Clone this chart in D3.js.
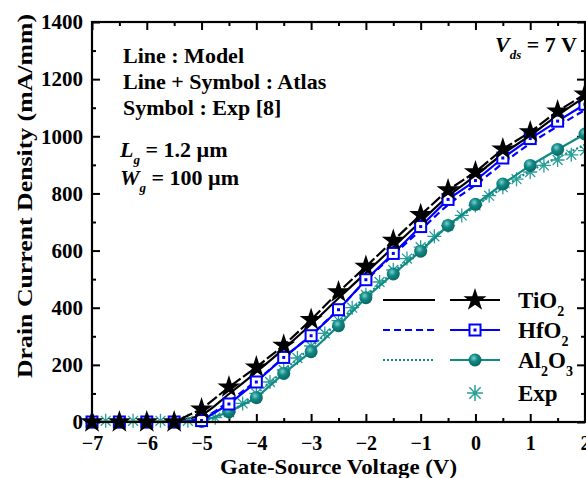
<!DOCTYPE html>
<html>
<head>
<meta charset="utf-8">
<script src="https://cdn.jsdelivr.net/npm/d3@7"></script>
<style>
  body { margin: 0; background: #fff; }
  text { font-family: "Liberation Serif", "Times New Roman", serif; font-weight: bold; }
</style>
</head>
<body>
<div id="viz"></div>
<script>
// ---- data ----
const atlasV = [-7, -6.5, -6, -5.5, -5, -4.5, -4, -3.5, -3, -2.5, -2, -1.5, -1, -0.5, 0, 0.5, 1, 1.5, 2];
const tio2Atlas = [0, 0, 0, 0, 45, 122, 192, 268, 358, 455, 544, 635, 725, 812, 875, 955, 1015, 1088, 1147];
const hfo2Atlas = [0, 0, 0, 0, 5, 63, 140, 226, 302, 393, 498, 590, 684, 779, 845, 924, 992, 1053, 1112];
const al2o3Atlas = [0, 0, 0, 0, 2, 35, 85, 170, 246, 337, 435, 518, 598, 688, 762, 833, 898, 954, 1008];

const modelV = [-7, -6.5, -6, -5.5, -5, -4.5, -4, -3.5, -3, -2.5, -2, -1.5, -1, -0.5, 0, 0.5, 1, 1.5, 2];
const tio2Model = [0, 0, 0, 4, 25, 98, 175, 256, 342, 433, 522, 612, 702, 790, 862, 938, 1003, 1073, 1138];
const hfo2Model = [0, 0, 0, 0, 14, 72, 145, 225, 305, 395, 495, 585, 672, 760, 830, 905, 975, 1035, 1092];
const al2o3Model = [0, 0, 0, 0, 5, 35, 100, 180, 262, 350, 440, 525, 605, 685, 755, 820, 878, 925, 970];

const expV = [-7, -6.75, -6.5, -6.25, -6, -5.75, -5.5, -5.25, -5, -4.75, -4.5, -4.25, -4, -3.75, -3.5, -3.25,
  -3, -2.75, -2.5, -2.25, -2, -1.75, -1.5, -1.25, -1, -0.75, -0.5, -0.25, 0, 0.25, 0.5, 0.75, 1, 1.25, 1.5, 1.75, 2];
const expI = [4, 4, 4, 4, 4, 4, 4, 4, 5, 15, 35, 65, 100, 140, 182, 224, 266, 310, 355, 400, 445, 490, 532,
  572, 612, 650, 687, 723, 758, 792, 822, 850, 875, 898, 917, 935, 950];

const xTicks = [-7, -6, -5, -4, -3, -2, -1, 0, 1, 2];
const yTicks = [0, 200, 400, 600, 800, 1000, 1200, 1400];

const black = "#000000", blue = "#0000ff", teal = "#108a86", expTeal = "#2a9e98";

const W = 586, H = 478;
const mLeft = 92, mRight = 585, mTop = 22, mBottom = 422;

const svg = d3.select("#viz").append("svg")
  .attr("width", W).attr("height", H);

const defs = svg.append("defs");
const grad = defs.append("radialGradient").attr("id", "ball")
  .attr("cx", "40%").attr("cy", "35%").attr("r", "65%");
grad.append("stop").attr("offset", "0%").attr("stop-color", "#7fd0cb");
grad.append("stop").attr("offset", "45%").attr("stop-color", teal);
grad.append("stop").attr("offset", "100%").attr("stop-color", "#0b6663");

const x = d3.scaleLinear().domain([-7, 2]).range([mLeft, mRight]);
const y = d3.scaleLinear().domain([0, 1400]).range([mBottom, mTop]);

// ---- axes (ticks pointing inward) ----
function styleAxis(size) {
  return g => {
    g.select(".domain").remove();
    g.selectAll(".tick line").attr("stroke", black).attr("stroke-width", 2);
    g.selectAll("text").attr("fill", black).style("font-size", size);
  };
}

svg.append("g").attr("transform", `translate(0,${mBottom})`)
  .call(d3.axisBottom(x).tickValues(xTicks).tickSize(-8).tickPadding(14).tickFormat(d3.format("d")))
  .call(styleAxis("20px"));
svg.append("g").attr("transform", `translate(0,${mBottom})`)
  .call(d3.axisBottom(x).tickValues(d3.range(-6.5, 2, 1)).tickSize(-4).tickFormat(""))
  .call(styleAxis("20px"));
svg.append("g").attr("transform", `translate(0,${mTop})`)
  .call(d3.axisTop(x).tickValues(xTicks).tickSize(-8).tickFormat(""))
  .call(styleAxis("20px"));
svg.append("g").attr("transform", `translate(0,${mTop})`)
  .call(d3.axisTop(x).tickValues(d3.range(-6.5, 2, 1)).tickSize(-4).tickFormat(""))
  .call(styleAxis("20px"));

svg.append("g").attr("transform", `translate(${mLeft},0)`)
  .call(d3.axisLeft(y).tickValues(yTicks).tickSize(-8).tickPadding(9).tickFormat(d3.format("d")))
  .call(styleAxis("21px"));
svg.append("g").attr("transform", `translate(${mLeft},0)`)
  .call(d3.axisLeft(y).tickValues(d3.range(100, 1400, 200)).tickSize(-4).tickFormat(""))
  .call(styleAxis("21px"));
svg.append("g").attr("transform", `translate(${mRight},0)`)
  .call(d3.axisRight(y).tickValues(yTicks).tickSize(-8).tickFormat(""))
  .call(styleAxis("21px"));
svg.append("g").attr("transform", `translate(${mRight},0)`)
  .call(d3.axisRight(y).tickValues(d3.range(100, 1400, 200)).tickSize(-4).tickFormat(""))
  .call(styleAxis("21px"));

// axis titles
svg.append("text")
  .attr("x", 220).attr("y", 474)
  .attr("textLength", 237).attr("lengthAdjust", "spacingAndGlyphs")
  .style("font-size", "21px")
  .text("Gate-Source Voltage  (V)");

svg.append("text")
  .attr("transform", "translate(32,378) rotate(-90)")
  .attr("textLength", 364).attr("lengthAdjust", "spacingAndGlyphs")
  .style("font-size", "22px")
  .text("Drain Current Density (mA/mm)");

// ---- curves ----
const plot = svg.append("g");

function pts(xs, ys) { return xs.map((v, i) => [v, ys[i]]); }

const line = d3.line().x(d => x(d[0])).y(d => y(d[1])).curve(d3.curveMonotoneX);
const straight = d3.line().x(d => x(d[0])).y(d => y(d[1]));

// model lines
plot.append("path").attr("d", line(pts(modelV, tio2Model)))
  .attr("fill", "none").attr("stroke", black).attr("stroke-width", 2.2);
plot.append("path").attr("d", line(pts(modelV, hfo2Model)))
  .attr("fill", "none").attr("stroke", blue).attr("stroke-width", 2.2)
  .attr("stroke-dasharray", "7,4");
plot.append("path").attr("d", line(pts(modelV, al2o3Model)))
  .attr("fill", "none").attr("stroke", teal).attr("stroke-width", 2.2)
  .attr("stroke-dasharray", "2,2");

// experimental asterisks
function asterisk(r) {
  const p = d3.path();
  for (let k = 0; k < 4; k++) {
    const a = k * Math.PI / 4;
    p.moveTo(-r * Math.cos(a), -r * Math.sin(a));
    p.lineTo(r * Math.cos(a), r * Math.sin(a));
  }
  return p.toString();
}
plot.append("g").selectAll("path")
  .data(pts(expV, expI))
  .join("path")
  .attr("transform", d => `translate(${x(d[0])},${y(d[1])})`)
  .attr("d", asterisk(7))
  .attr("stroke", expTeal).attr("stroke-width", 1.3).attr("fill", "none");

// atlas lines + symbols
plot.append("path").attr("d", straight(pts(atlasV, al2o3Atlas)))
  .attr("fill", "none").attr("stroke", teal).attr("stroke-width", 2.2);
plot.append("g").selectAll("circle")
  .data(pts(atlasV, al2o3Atlas))
  .join("circle")
  .attr("cx", d => x(d[0])).attr("cy", d => y(d[1])).attr("r", 6.5)
  .attr("fill", "url(#ball)");

plot.append("path").attr("d", straight(pts(atlasV, hfo2Atlas)))
  .attr("fill", "none").attr("stroke", blue).attr("stroke-width", 2.2);
const sq = plot.append("g").selectAll("g")
  .data(pts(atlasV, hfo2Atlas))
  .join("g")
  .attr("transform", d => `translate(${x(d[0])},${y(d[1])})`);
sq.append("rect").attr("x", -5.5).attr("y", -5.5).attr("width", 11).attr("height", 11)
  .attr("fill", "#fff").attr("stroke", blue).attr("stroke-width", 2);
sq.append("rect").attr("x", -1.5).attr("y", -1.5).attr("width", 3).attr("height", 3)
  .attr("fill", blue);

plot.append("path").attr("d", straight(pts(atlasV, tio2Atlas)))
  .attr("fill", "none").attr("stroke", black).attr("stroke-width", 2.2)
  .attr("stroke-dasharray", "12,3");
plot.append("g").selectAll("path")
  .data(pts(atlasV, tio2Atlas))
  .join("path")
  .attr("transform", d => `translate(${x(d[0])},${y(d[1])})`)
  .attr("d", d3.symbol(d3.symbolStar, 165)())
  .attr("fill", black);

// frame
svg.append("rect")
  .attr("x", mLeft).attr("y", mTop)
  .attr("width", mRight - mLeft).attr("height", mBottom - mTop)
  .attr("fill", "none").attr("stroke", black).attr("stroke-width", 2.2);

// ---- annotations ----
const note = svg.append("g").style("font-size", "22px");
note.append("text").attr("x", 123).attr("y", 63).text("Line : Model");
note.append("text").attr("x", 123).attr("y", 89).text("Line + Symbol : Atlas");
note.append("text").attr("x", 123).attr("y", 115).text("Symbol : Exp [8]");

function subLabel(xp, yp, main, sub, rest) {
  const t = note.append("text").attr("x", xp).attr("y", yp);
  t.append("tspan").style("font-style", "italic").text(main);
  t.append("tspan").style("font-style", "italic").style("font-size", "13px")
    .attr("dy", 7).text(sub);
  t.append("tspan").attr("dy", -7).text(rest);
  return t;
}
subLabel(120, 157, "L", "g", " = 1.2 \u00b5m");
subLabel(120, 185, "W", "g", " = 100 \u00b5m");
subLabel(495, 52, "V", "ds", " = 7 V");

// ---- legend ----
const legendRows = [
  { y: 300, color: black, dash: null, name: ["TiO", "2", ""] },
  { y: 330, color: blue, dash: "7,4", name: ["HfO", "2", ""] },
  { y: 360, color: teal, dash: "2,2", name: ["Al", "2", "O", "3"] }
];
const lg = svg.append("g");
legendRows.forEach((r, i) => {
  lg.append("line").attr("x1", 383).attr("x2", 435).attr("y1", r.y).attr("y2", r.y)
    .attr("stroke", r.color).attr("stroke-width", 2.2).attr("stroke-dasharray", r.dash);
  lg.append("line").attr("x1", 450).attr("x2", 500).attr("y1", r.y).attr("y2", r.y)
    .attr("stroke", r.color).attr("stroke-width", 2.2);
  if (i === 0) {
    lg.append("path").attr("transform", `translate(475,${r.y})`)
      .attr("d", d3.symbol(d3.symbolStar, 165)()).attr("fill", black);
  } else if (i === 1) {
    lg.append("rect").attr("x", 469.5).attr("y", r.y - 5.5).attr("width", 11).attr("height", 11)
      .attr("fill", "#fff").attr("stroke", blue).attr("stroke-width", 2);
    lg.append("rect").attr("x", 473.5).attr("y", r.y - 1.5).attr("width", 3).attr("height", 3)
      .attr("fill", blue);
  } else {
    lg.append("circle").attr("cx", 475).attr("cy", r.y).attr("r", 6.5).attr("fill", "url(#ball)");
  }
  const t = lg.append("text").attr("x", 518).attr("y", r.y + 8).style("font-size", "23px");
  t.append("tspan").text(r.name[0]);
  t.append("tspan").attr("dy", 8).style("font-size", "14px").text(r.name[1]);
  if (r.name[2]) {
    t.append("tspan").attr("dy", -8).text(r.name[2]);
    t.append("tspan").attr("dy", 8).style("font-size", "14px").text(r.name[3]);
  }
});
lg.append("path").attr("transform", "translate(475,393)").attr("d", asterisk(8))
  .attr("stroke", expTeal).attr("stroke-width", 1.5).attr("fill", "none");
lg.append("text").attr("x", 518).attr("y", 401).style("font-size", "23px").text("Exp");
</script>
</body>
</html>
